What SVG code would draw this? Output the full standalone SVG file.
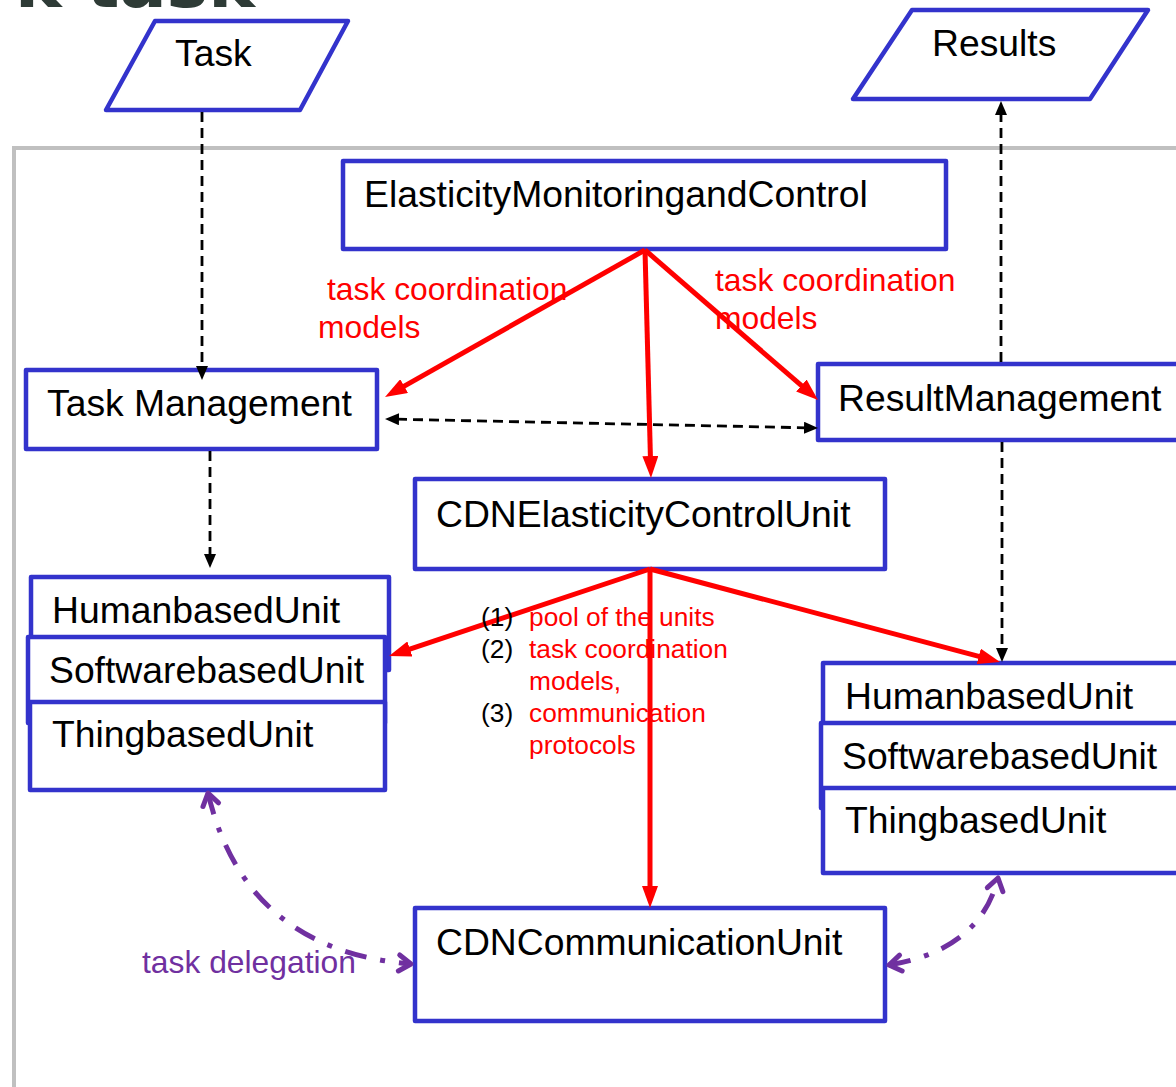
<svg xmlns="http://www.w3.org/2000/svg" width="1176" height="1087" viewBox="0 0 1176 1087">
  <style>
    .box { fill: #ffffff; stroke: #3333cc; stroke-width: 4.5; stroke-linejoin: round; }
    .lbl { font-family: "Liberation Sans", Arial, sans-serif; font-size: 37.3px; fill: #000000; }
    .red { font-family: "Liberation Sans", Arial, sans-serif; font-size: 31.8px; fill: #ff0000; }
    .lst { font-family: "Liberation Sans", Arial, sans-serif; font-size: 26.3px; }
    .flow { stroke: #000000; stroke-width: 2.8; stroke-dasharray: 10 6; fill: none; }
    .ctrl { stroke: #ff0000; stroke-width: 5; fill: none; }
    .deleg { stroke: #7030a0; stroke-width: 5; fill: none; stroke-dasharray: 22 14 5 14; }
  </style>
  <defs>
    <marker id="blk" viewBox="0 0 14 12" markerUnits="userSpaceOnUse" markerWidth="14" markerHeight="12" refX="2" refY="6" orient="auto-start-reverse">
      <path d="M0,0 L14,6 L0,12 Z" fill="#000000"/>
    </marker>
    <marker id="redHead" viewBox="0 0 22 16" markerUnits="userSpaceOnUse" markerWidth="22" markerHeight="16" refX="4" refY="8" orient="auto">
      <path d="M0,0 L22,8 L0,16 Z" fill="#ff0000"/>
    </marker>
    <marker id="chev" viewBox="-3 -3 18 22" markerUnits="userSpaceOnUse" markerWidth="18" markerHeight="22" refX="12" refY="8" orient="auto-start-reverse" overflow="visible">
      <path d="M0,0 L12,8 L0,16" fill="none" stroke="#7030a0" stroke-width="5" stroke-linecap="round" stroke-linejoin="round"/>
    </marker>
  </defs>

  <rect width="1176" height="1087" fill="#ffffff"/>

  <!-- heading, clipped by the top edge -->
  <text x="15" y="7" font-family="DejaVu Sans, sans-serif" font-weight="bold" font-size="70" fill="#2e3b36">k task</text>

  <!-- system boundary -->
  <rect x="14" y="148" width="1220" height="1000" fill="none" stroke="#c0c0c0" stroke-width="4"/>

  <g id="task">
    <polygon class="box" points="155,21 348,21 300,110 106,110"/>
    <text class="lbl" x="175" y="66">Task</text>
  </g>

  <g id="results">
    <polygon class="box" points="912,10 1148,10 1090,99 853,99"/>
    <text class="lbl" x="932" y="56">Results</text>
  </g>

  <g id="elasticity-monitoring">
    <rect class="box" x="343" y="161" width="603" height="88"/>
    <text class="lbl" x="364" y="207">ElasticityMonitoringandControl</text>
  </g>

  <g id="task-management">
    <rect class="box" x="26" y="370" width="351" height="79"/>
    <text class="lbl" x="47" y="416">Task Management</text>
  </g>

  <g id="result-management">
    <rect class="box" x="818" y="364" width="400" height="76"/>
    <text class="lbl" x="838" y="411">ResultManagement</text>
  </g>

  <g id="cdn-elasticity-control">
    <rect class="box" x="415" y="479" width="470" height="90"/>
    <text class="lbl" x="436" y="527">CDNElasticityControlUnit</text>
  </g>

  <g id="units-left">
    <rect class="box" x="31" y="577" width="358" height="93"/>
    <text class="lbl" x="52" y="623">HumanbasedUnit</text>
    <rect class="box" x="28" y="637" width="357" height="86"/>
    <text class="lbl" x="49" y="683">SoftwarebasedUnit</text>
    <rect class="box" x="30" y="702" width="355" height="88"/>
    <text class="lbl" x="52" y="747">ThingbasedUnit</text>
  </g>

  <g id="units-right">
    <rect class="box" x="823" y="663" width="400" height="80"/>
    <text class="lbl" x="845" y="709">HumanbasedUnit</text>
    <rect class="box" x="821" y="723" width="400" height="85"/>
    <text class="lbl" x="842" y="769">SoftwarebasedUnit</text>
    <rect class="box" x="823" y="788" width="400" height="85"/>
    <text class="lbl" x="845" y="833">ThingbasedUnit</text>
  </g>

  <g id="cdn-communication">
    <rect class="box" x="415" y="908" width="470" height="113"/>
    <text class="lbl" x="436" y="955">CDNCommunicationUnit</text>
  </g>

  <g id="connectors">
    <!-- task / result flow -->
    <line class="flow" x1="202" y1="112" x2="202" y2="368" marker-end="url(#blk)"/>
    <line class="flow" x1="210" y1="451" x2="210" y2="556" marker-end="url(#blk)"/>
    <line class="flow" x1="397" y1="419.2" x2="806" y2="427.8" marker-start="url(#blk)" marker-end="url(#blk)"/>
    <line class="flow" x1="1001" y1="362" x2="1001" y2="113" marker-end="url(#blk)"/>
    <line class="flow" x1="1002" y1="442" x2="1002" y2="650" marker-end="url(#blk)"/>

    <!-- elasticity control -->
    <line class="ctrl" x1="645" y1="250" x2="400.7" y2="388.1" marker-end="url(#redHead)"/>
    <line class="ctrl" x1="645" y1="250" x2="650.5" y2="460" marker-end="url(#redHead)"/>
    <line class="ctrl" x1="645" y1="250" x2="804.4" y2="388.2" marker-end="url(#redHead)"/>
    <line class="ctrl" x1="650" y1="569" x2="406.1" y2="650.3" marker-end="url(#redHead)"/>
    <line class="ctrl" x1="650" y1="569" x2="982.6" y2="657.4" marker-end="url(#redHead)"/>
    <line class="ctrl" x1="650" y1="569" x2="650" y2="890" marker-end="url(#redHead)"/>

    <!-- task delegation -->
    <path class="deleg" d="M208,793 Q245,950 411,964" marker-start="url(#chev)" marker-end="url(#chev)"/>
    <path class="deleg" d="M889,965 Q980,950 998,878" marker-start="url(#chev)" marker-end="url(#chev)"/>
  </g>

  <g id="labels">
    <text class="red" x="327" y="300">task coordination</text>
    <text class="red" x="318" y="338">models</text>
    <text class="red" x="715" y="291">task coordination</text>
    <text class="red" x="715" y="329">models</text>

    <g class="lst">
      <text x="481" y="626" fill="#000000">(1)</text>
      <text x="529" y="626" fill="#ff0000">pool of the units</text>
      <text x="481" y="658" fill="#000000">(2)</text>
      <text x="529" y="658" fill="#ff0000">task coordination</text>
      <text x="529" y="690" fill="#ff0000">models,</text>
      <text x="481" y="722" fill="#000000">(3)</text>
      <text x="529" y="722" fill="#ff0000">communication</text>
      <text x="529" y="754" fill="#ff0000">protocols</text>
    </g>

    <text x="142" y="973" font-family="Liberation Sans, Arial, sans-serif" font-size="31.8" fill="#7030a0">task delegation</text>
  </g>
</svg>
